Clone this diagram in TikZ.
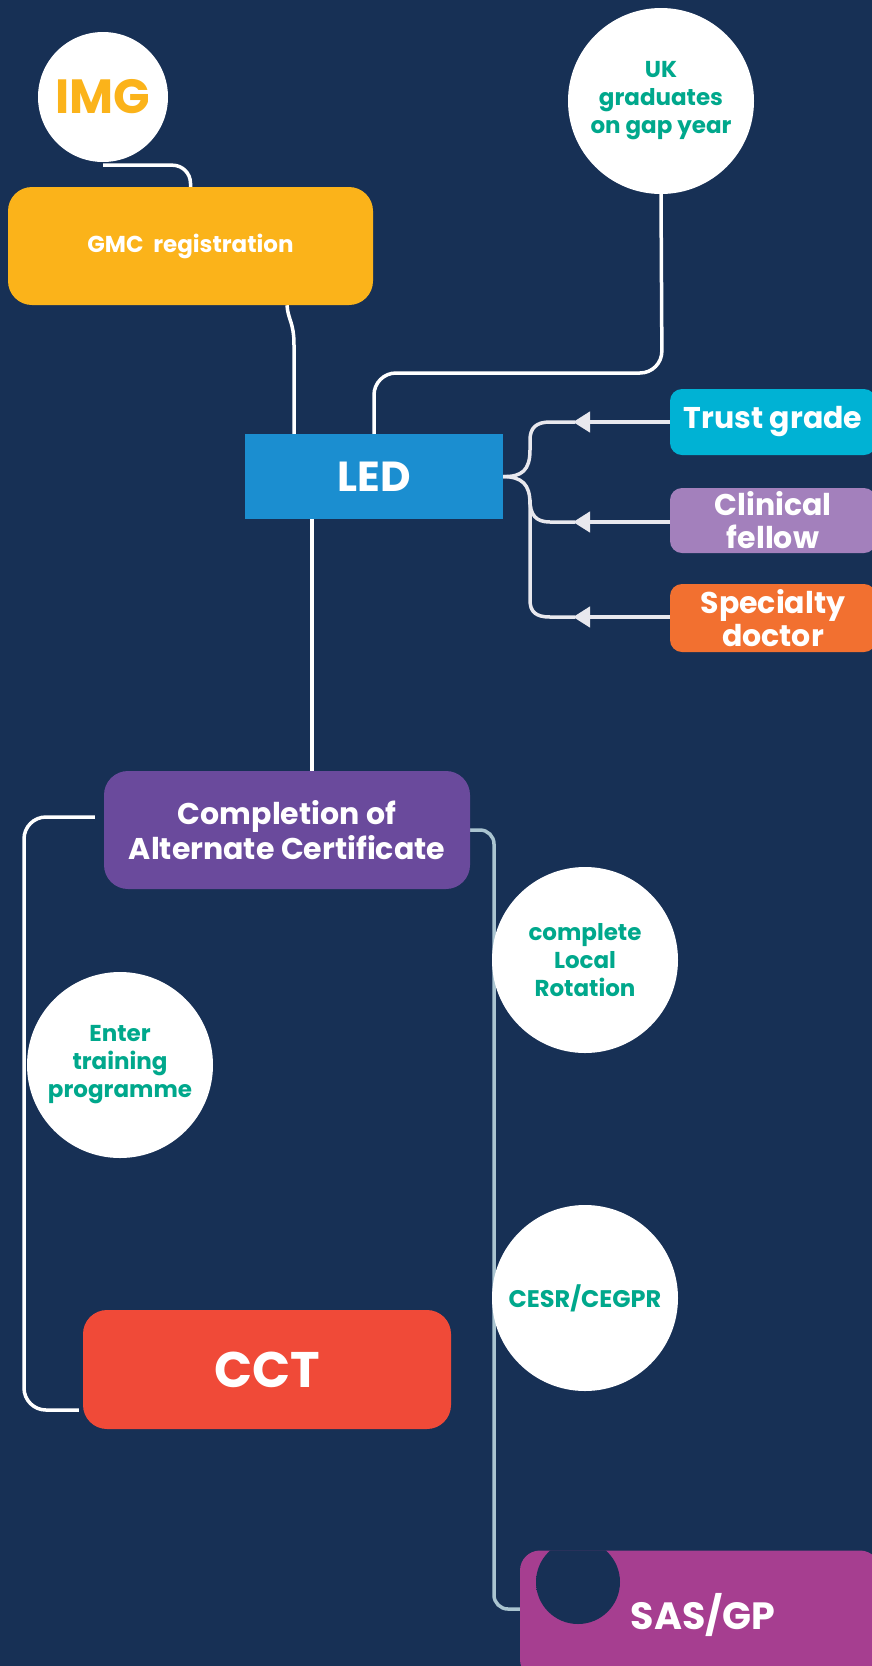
\documentclass[tikz,border=0pt]{standalone}
\usepackage{fontspec}
\setmainfont{Poppins}
\usepackage{xcolor}
\usepackage{tikz}
\usetikzlibrary{arrows.meta,backgrounds}

\definecolor{navy}{RGB}{23,48,85}
\definecolor{gmcyellow}{RGB}{251,179,26}
\definecolor{ledblue}{RGB}{27,142,208}
\definecolor{trustcyan}{RGB}{0,178,212}
\definecolor{lavender}{RGB}{163,128,188}
\definecolor{docorange}{RGB}{242,112,48}
\definecolor{certpurple}{RGB}{106,74,156}
\definecolor{cctred}{RGB}{240,74,56}
\definecolor{sasmagenta}{RGB}{166,62,144}
\definecolor{bubbleteal}{RGB}{0,168,140}
\definecolor{palegrey}{RGB}{232,232,238}
\definecolor{steel}{RGB}{170,196,208}

\pgfdeclareradialshading{smudge}{\pgfpoint{0bp}{0bp}}{%
  color(0bp)=(navy); color(34bp)=(navy); color(47bp)=(sasmagenta); color(50bp)=(sasmagenta)}

\tikzset{
  bubble/.style={circle, fill=white, minimum size=186pt, inner sep=0pt, align=center,
    text=bubbleteal, font=\bfseries\fontsize{23}{28}\selectfont},
  card/.style={rectangle, rounded corners=24pt, inner sep=0pt, align=center, text=white,
    font=\bfseries\fontsize{30}{35}\selectfont},
  tab/.style={card, rounded corners=12pt, minimum width=206pt, font=\bfseries\fontsize{30}{33}\selectfont},
  link/.style={draw=white, line width=3.5pt, rounded corners=22pt},
  feed/.style={draw=palegrey, line width=3.5pt},
}

\begin{document}
\begin{tikzpicture}[x=1pt, y=-1pt]
    \useasboundingbox (0,0) rectangle (872,1666);

    % boxes
    \node[card, fill=gmcyellow, minimum width=365pt, minimum height=118pt,
      font=\bfseries\fontsize{23}{28}\selectfont] (gmc) at (190.5,246) {GMC\ \ registration};
    \node[fill=ledblue, minimum width=258pt, minimum height=85pt, inner sep=0pt, text=white,
      font=\bfseries\fontsize{42}{42}\selectfont] (led) at (374,476.5) {LED};
    \node[tab, fill=trustcyan, minimum height=66pt] (trust) at (773,422) {Trust grade};
    \node[tab, fill=lavender, minimum height=65pt] (fellow) at (773,520.5) {Clinical\\fellow};
    \node[tab, fill=docorange, minimum height=68pt] (specialty) at (773,618) {Specialty\\doctor};
    \node[card, fill=certpurple, minimum width=366pt, minimum height=118pt] (comp) at (287,830)
      {Completion of\\Alternate Certificate};
    \node[card, fill=cctred, minimum width=368pt, minimum height=119pt,
      font=\bfseries\fontsize{50}{50}\selectfont] (cct) at (267,1369.5) {CCT};
    \node[card, fill=sasmagenta, rounded corners=20pt, minimum width=360pt, minimum height=129pt,
      font=\bfseries\fontsize{38}{38}\selectfont] (sas) at (700,1615) {\hspace*{6pt}SAS/GP};
    % smudge on the SAS/GP box
    \begin{scope}
      \clip[rounded corners=20pt] (sas.north west) rectangle (sas.south east);
      \shade[shading=smudge] (578,1582) circle (42pt);
    \end{scope}

    % bubbles
    \node[bubble, minimum size=130pt, text=gmcyellow, font=\bfseries\fontsize{48}{48}\selectfont]
      (img) at (103,97) {IMG};
    \node[bubble] (uk) at (661,101) {UK\\graduates\\on gap year};
    \node[bubble] (enter) at (120,1065) {Enter\\training\\programme};
    \node[bubble] (local) at (585,960) {complete\\Local\\Rotation};
    \node[bubble, font=\bfseries\fontsize{24}{28}\selectfont] (cesr) at (585,1298) {CESR/CEGPR};

    \begin{scope}[on background layer]
    \fill[navy] (0,0) rectangle (872,1666);

    % connectors
    \draw[link, rounded corners=18pt] ([yshift=-3pt]img.south) -| (gmc.north);
    \draw[link, sharp corners] ([xshift=96.5pt]gmc.south) .. controls (288,320) and (294,322) .. (294,345)
      -- ([xshift=-80pt]led.north);
    \draw[link] (uk.south) -- (662,373) -- (374,373) -- (led.north);
    \draw[link] ([xshift=-62pt]led.south) -- ([xshift=25pt]comp.north);
    \draw[link] ([xshift=-9pt,yshift=13pt]comp.west) -- (24,817) -- (24,1410)
      -- ([xshift=-4pt,yshift=-40.5pt]cct.west);
    \draw[link, draw=steel, rounded corners=14pt] (comp.east) -- (494,830) -- (494,1609)
      -- ([yshift=6pt]sas.west);

    % bracket from the side jobs
    \draw[feed] (led.east) .. controls (522,477) and (530,470) .. (530,450) -- (530,440)
      .. controls (530,428) and (536,422) .. (550,422) -- (575,422);
    \draw[feed] (led.east) .. controls (522,477) and (530,484) .. (530,504) -- (530,600)
      .. controls (530,612) and (536,617) .. (550,617) -- (575,617);
    \draw[feed] (530,500) .. controls (530,515) and (536,522) .. (550,522) -- (575,522);
    \draw[feed, line width=4.5pt, -{Triangle[length=17pt,width=20pt]}] (trust.west) -- (573,422);
    \draw[feed, line width=4.5pt, -{Triangle[length=17pt,width=20pt]}] (fellow.west |- 0,522) -- (573,522);
    \draw[feed, line width=4.5pt, -{Triangle[length=17pt,width=20pt]}] (specialty.west |- 0,617) -- (573,617);
    \end{scope}

\end{tikzpicture}
\end{document}
